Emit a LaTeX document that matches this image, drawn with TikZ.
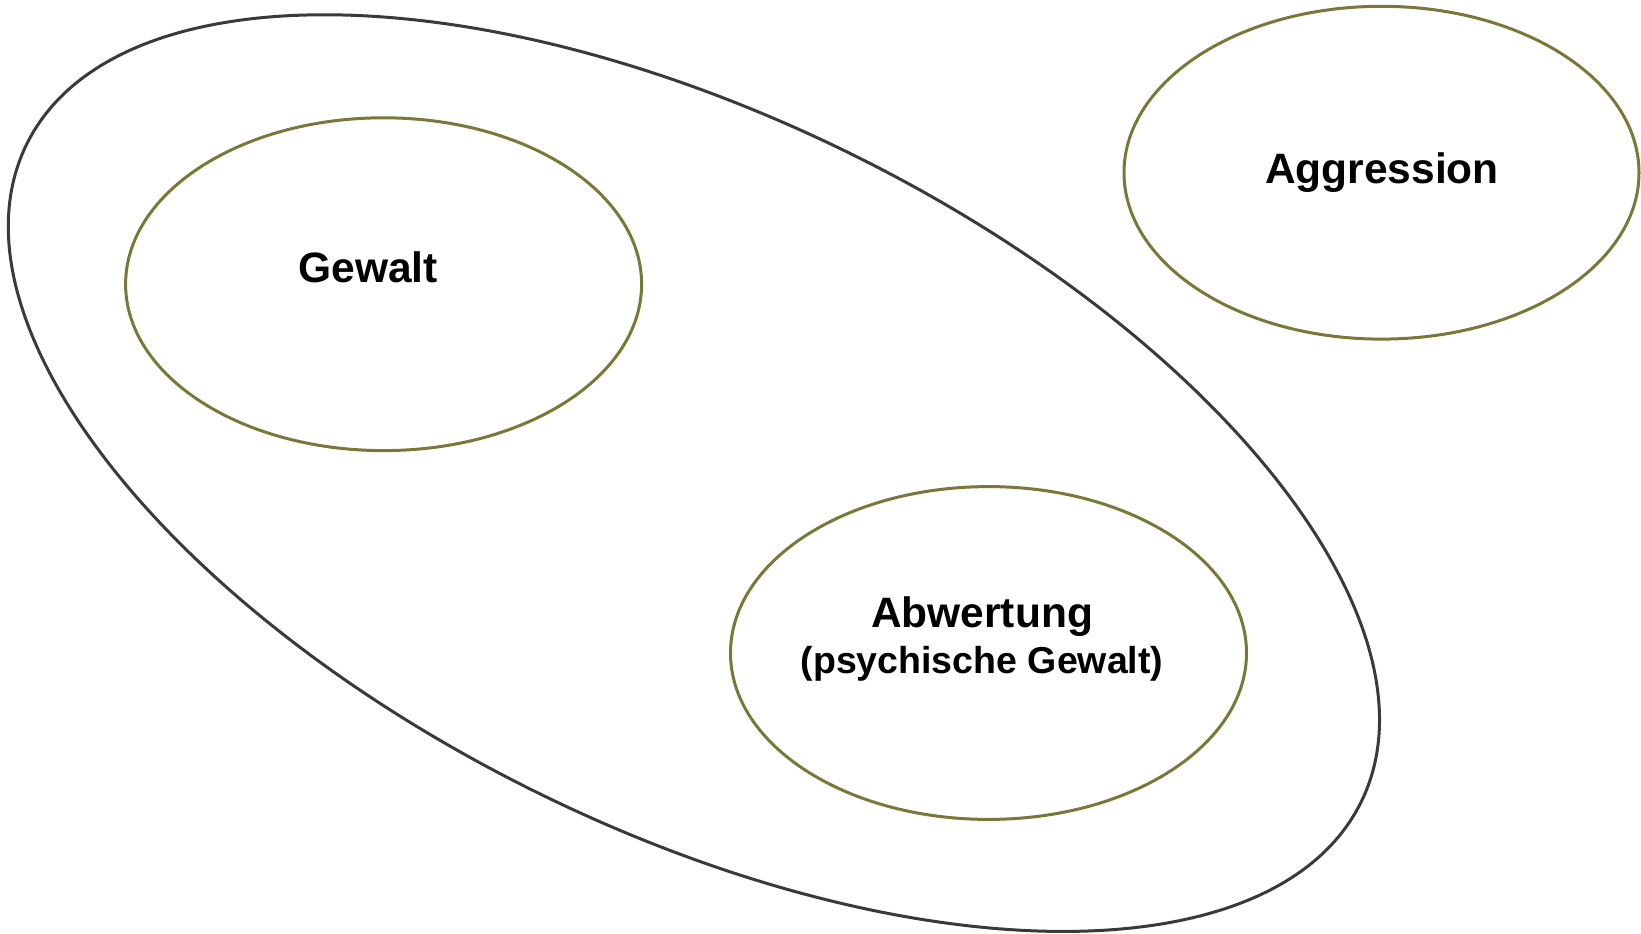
\documentclass[tikz,border=0pt]{standalone}
\usepackage{fontspec}
\setmainfont{Liberation Sans}
\definecolor{olivel}{HTML}{787838}
\definecolor{darkl}{HTML}{3A3A3A}
\begin{document}
\begin{tikzpicture}[x=1pt,y=-1pt,
  inner/.style={draw=olivel,line width=3pt},
  outer/.style={draw=darkl,line width=3pt},
  lbl/.style={font=\fontsize{42.5}{50}\selectfont\bfseries},
  sublbl/.style={font=\fontsize{37.5}{44}\selectfont\bfseries}]
\useasboundingbox (0,0) rectangle (1641,934);
\draw[outer,rotate around={-26.25:(693.9,473.1)}] (693.9,473.1) ellipse [x radius=743.9, y radius=355.8];
\draw[inner] (383.6,284.2) ellipse [x radius=258, y radius=166.4];
\draw[inner] (1381.5,172.7) ellipse [x radius=257.5, y radius=166.4];
\draw[inner] (988.5,653) ellipse [x radius=258, y radius=166.4];
\node[lbl] (gewalt) at (368,267) {Gewalt};
\node[lbl] (aggr) at (1382,173) {Aggression};
\node[lbl] (abw) at (982,617) {Abwertung};
\node[sublbl] (psy) at (982,664) {(psychische Gewalt)};
\end{tikzpicture}
\end{document}
